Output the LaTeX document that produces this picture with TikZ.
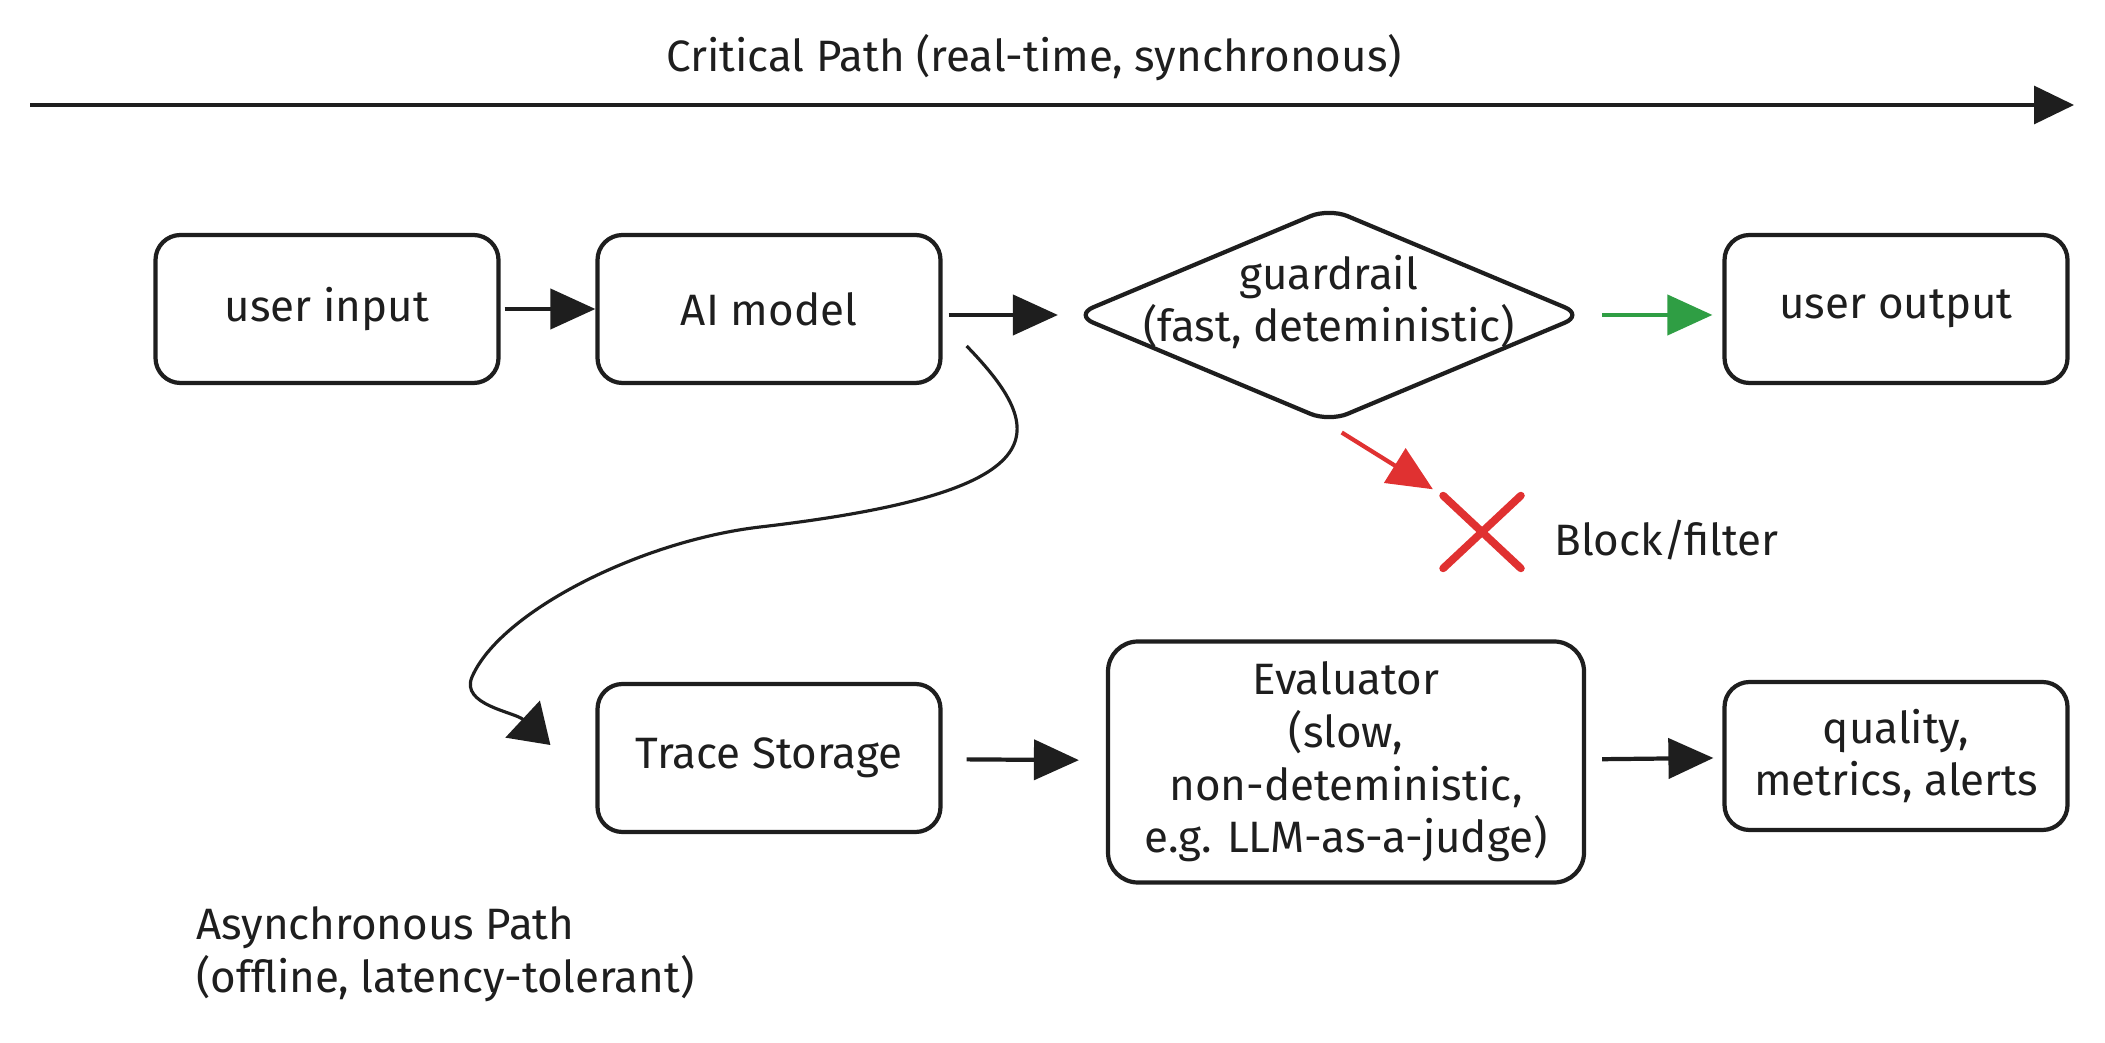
\documentclass[tikz,border=0pt]{standalone}
\usepackage{fontspec}
\setmainfont{Fira Sans}
\usepackage{xcolor}
\usetikzlibrary{arrows.meta,shapes.geometric,shapes.misc}
\definecolor{ink}{HTML}{1E1E1E}
\definecolor{okgreen}{HTML}{2F9E44}
\definecolor{badred}{HTML}{E03131}

\begin{document}
\begin{tikzpicture}[every node/.style={font=\fontsize{12.5}{15}\selectfont,text=ink},
  box/.style={draw=ink,line width=1.2pt,rounded corners=0.25cm,minimum width=3.43cm,minimum height=1.48cm,align=center},
  flow/.style={draw=ink,line width=1.2pt,-{Triangle[length=4.5mm,width=4mm]}}]
  \useasboundingbox (0,0) rectangle (21.05,10.42);
  % critical path on top
  \node (crit) at (10.34,9.84) {Critical Path (real-time, synchronous)};
  \coordinate (critL) at (0.30,9.37);
  \coordinate (critR) at (20.74,9.37);
  \draw[flow,line width=0.9pt,-{Triangle[length=4mm,width=3.8mm]}] (critL) -- (critR);
  \node[box] (userin) at (3.27,7.33) {user input};
  \node[box] (model) at (7.69,7.33) {AI model};
  \node[diamond,draw=ink,line width=1.2pt,minimum width=5.1cm,minimum height=2.15cm,inner sep=0pt,rounded corners=0.2cm] (guard) at (13.29,7.27) {};
  \node[align=center] (guardtxt) at ([yshift=0.13cm]guard.center) {guardrail\\(fast, deteministic)};
  \node[box] (userout) at (18.96,7.33) {user output};
  \draw[flow,shorten <=0.04cm] (userin) -- (model);
  \draw[flow,shorten <=0.06cm,shorten >=0.14cm] (model.east |- guard.west) -- (guard.west);
  \draw[flow,draw=okgreen,shorten <=0.16cm,shorten >=0.1cm] (guard.east) -- (userout.west |- guard.east);
  % rejected answers
  \node[cross out,draw=badred,line width=2.2pt,line cap=round,minimum width=0.7cm,minimum height=0.65cm,inner sep=0pt] (blockx) at (14.82,5.10) {};
  \node[anchor=west] (blocklbl) at (15.42,5.02) {Block/filter};
  \draw[flow,draw=badred,shorten <=0.15cm,shorten >=0.12cm] (guard.south) -- (blockx.north west);
  % async path below
  \node[box] (trace) at (7.69,2.84) {Trace Storage};
  \node[box,minimum width=4.76cm,minimum height=2.41cm,rounded corners=0.3cm] (evaluator) at (13.46,2.80) {Evaluator\\(slow,\\non-deteministic,\\e.g. LLM-as-a-judge)};
  \node[box] (quality) at (18.96,2.86) {quality,\\metrics, alerts};
  \draw[flow,shorten <=0.24cm,shorten >=0.27cm] (trace) -- (evaluator);
  \draw[flow,shorten <=0.16cm,shorten >=0.09cm] (evaluator) -- (quality);
  \draw[ink,line width=0.9pt,-{Triangle[length=3.8mm,width=5mm]}] ([xshift=0.24cm,yshift=-0.37cm]model.east)
    .. controls (10.5,6.1) and (10.6,5.5) .. (7.6,5.15)
    .. controls (6.4,5.01) and (5.0,4.3) .. (4.72,3.65)
    .. controls (4.60,3.37) and (5.15,3.3) .. ([xshift=-0.45cm,yshift=0.13cm]trace.west);
  \node[anchor=west,align=left] (async) at (1.84,0.88) {Asynchronous Path\\(offline, latency-tolerant)};
\end{tikzpicture}
\end{document}
